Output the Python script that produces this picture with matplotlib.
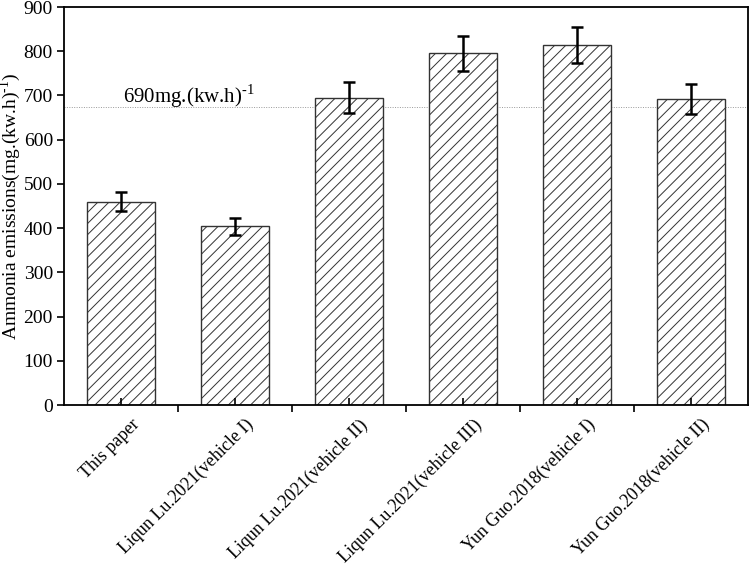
import numpy as np
import matplotlib
matplotlib.use("Agg")
import matplotlib.pyplot as plt
from matplotlib.transforms import ScaledTranslation

# данные
labels = ["This paper", "Liqun Lu.2021(vehicle I)", "Liqun Lu.2021(vehicle II)",
          "Liqun Lu.2021(vehicle III)", "Yun Guo.2018(vehicle I)", "Yun Guo.2018(vehicle II)"]
values = [460, 404, 695, 795, 814, 692]
errors = [22, 19, 35, 40, 40, 35]
limit_line = 673
limit_text = "690mg.(kw.h)$^{\\text{-1}}$"

plt.rcParams["font.family"] = ["Liberation Serif", "DejaVu Serif"]
plt.rcParams["mathtext.fontset"] = "custom"
plt.rcParams["mathtext.rm"] = "Liberation Serif"
plt.rcParams["hatch.color"] = "#555555"
plt.rcParams["hatch.linewidth"] = 0.7

fig = plt.figure(figsize=(7.49, 5.65), dpi=100)
ax = fig.add_axes([64 / 749, 1 - 405 / 565, 684 / 749, 398 / 565])

x = np.arange(len(labels))
ax.bar(x, values, width=0.6, color="white", edgecolor="#333333", linewidth=1.0, hatch="///")
ax.errorbar(x, values, yerr=errors, fmt="none", ecolor="black", elinewidth=1.8,
            capsize=4, capthick=1.8)

ax.axhline(limit_line, color="#999999", linestyle=(0, (1, 1.5)), linewidth=0.7, zorder=0)
ax.text(0.02, 683, limit_text, fontsize=15, ha="left", va="baseline")

ax.set_xlim(-0.5, 5.5)
ax.set_ylim(0, 900)
ax.set_yticks(np.arange(0, 901, 100))
ax.set_xticks(x)
ax.set_xticklabels(labels, rotation=45, ha="right", rotation_mode="anchor", fontsize=13)
ax.set_xticks(x[:-1] + 0.5, minor=True)
ax.tick_params(axis="x", which="major", direction="in", length=5, width=1.2, pad=8)
ax.tick_params(axis="x", which="minor", direction="out", length=5, width=1.2)
ax.tick_params(axis="y", which="major", direction="out", length=5, width=1.2, labelsize=14,
               pad=3)

# сдвигаем подписи вправо, как в оригинале
shift = ScaledTranslation(7 / 72, 0, fig.dpi_scale_trans)
for lbl in ax.get_xticklabels():
    lbl.set_transform(lbl.get_transform() + shift)

for s in ax.spines.values():
    s.set_linewidth(1.3)

ax.set_ylabel("Ammonia emissions(mg.(kw.h)$^{\\text{-1}}$)", fontsize=14)
ax.yaxis.set_label_coords(-0.06, 0.5)

fig.savefig("out.png", dpi=100)
